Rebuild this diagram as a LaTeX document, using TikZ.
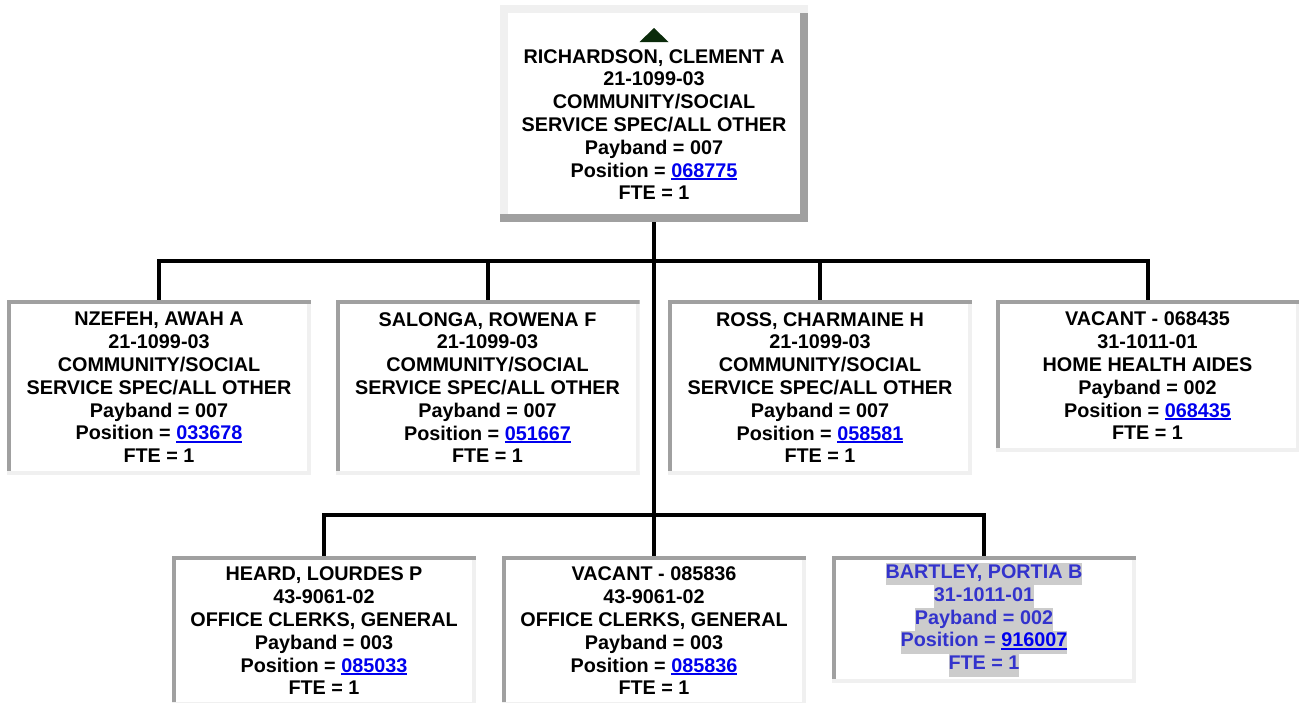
\documentclass[tikz,border=0pt]{standalone}
\usepackage{fontspec}
\setmainfont{Liberation Sans}
\usetikzlibrary{positioning,calc}

\definecolor{bddark}{HTML}{A0A0A0}
\definecolor{bdlight}{HTML}{F0F0F0}
\definecolor{linkblue}{HTML}{0000EE}
\definecolor{vacblue}{HTML}{3333CC}
\definecolor{hlgray}{HTML}{CCCCCC}
\definecolor{markgreen}{HTML}{0B2B0B}

\setlength\fboxsep{0pt}
\newcommand\poslink[1]{{\color{linkblue}\setbox0\hbox{#1}\rlap{\rule[-3.3pt]{\wd0}{2pt}}\box0}}
\newcommand\hiline[1]{\colorbox{hlgray}{\strut #1}}

\begin{document}
\begin{tikzpicture}[x=1pt,y=-1pt,
  font=\fontsize{19.8}{22.8}\selectfont\bfseries,
  staff/.style={minimum width=304pt,minimum height=175pt,inner sep=0pt,outer sep=0pt,
    align=center,fill=white,
    path picture={
      \fill[bdlight] ([xshift=-4pt]path picture bounding box.north east) rectangle (path picture bounding box.south east);
      \fill[bddark] (path picture bounding box.north west) rectangle ([yshift=-4pt]path picture bounding box.north east);
      \fill[bddark] (path picture bounding box.north west) rectangle ([xshift=4pt]path picture bounding box.south west);
      \fill[bdlight] ([yshift=4pt]path picture bounding box.south west) rectangle (path picture bounding box.south east);
    }},
  boss/.style={minimum width=308pt,minimum height=217pt,inner sep=0pt,outer sep=0pt,
    align=center,fill=white,
    path picture={
      \fill[bddark] ([xshift=-8pt]path picture bounding box.north east) rectangle (path picture bounding box.south east);
      \fill[bdlight] (path picture bounding box.north west) rectangle ([yshift=-8pt]path picture bounding box.north east);
      \fill[bdlight] (path picture bounding box.north west) rectangle ([xshift=8pt]path picture bounding box.south west);
      \fill[bddark] ([yshift=8pt]path picture bounding box.south west) rectangle (path picture bounding box.south east);
    }},
  wire/.style={line width=4pt}]
\path[use as bounding box,clip] (0,0) rectangle (1299,702);

% supervisor
\node[boss] (richardson) at (654,113.5) {\rule{0pt}{13pt}\\RICHARDSON, CLEMENT A\\21-1099-03\\COMMUNITY/SOCIAL\\SERVICE SPEC/ALL OTHER\\Payband = 007\\Position = \poslink{068775}\\FTE = 1};
\fill[markgreen] ([yshift=-23pt]richardson.north) -- ([xshift=-14.5pt,yshift=-37pt]richardson.north)
  -- ([xshift=14.5pt,yshift=-37pt]richardson.north) -- cycle;

% first row
\node[staff] (nzefeh) at (159,387.5) {NZEFEH, AWAH A\\21-1099-03\\COMMUNITY/SOCIAL\\SERVICE SPEC/ALL OTHER\\Payband = 007\\Position = \poslink{033678}\\FTE = 1};
\node[staff] (salonga) at (487.5,387.5) {SALONGA, ROWENA F\\21-1099-03\\COMMUNITY/SOCIAL\\SERVICE SPEC/ALL OTHER\\Payband = 007\\Position = \poslink{051667}\\FTE = 1};
\node[staff] (ross) at (820,387.5) {ROSS, CHARMAINE H\\21-1099-03\\COMMUNITY/SOCIAL\\SERVICE SPEC/ALL OTHER\\Payband = 007\\Position = \poslink{058581}\\FTE = 1};
\node[staff,minimum height=152pt] (vacA) at (1147.5,376) {VACANT - 068435\\31-1011-01\\HOME HEALTH AIDES\\Payband = 002\\Position = \poslink{068435}\\FTE = 1};

% second row
\node[staff,minimum height=150pt] (heard) at (324,631) {HEARD, LOURDES P\\43-9061-02\\OFFICE CLERKS, GENERAL\\Payband = 003\\Position = \poslink{085033}\\FTE = 1};
\node[staff,minimum height=150pt] (vacB) at (654,631) {VACANT - 085836\\43-9061-02\\OFFICE CLERKS, GENERAL\\Payband = 003\\Position = \poslink{085836}\\FTE = 1};
\node[staff,minimum height=127pt,text=vacblue] (bartley) at (984,619.5) {\hiline{BARTLEY, PORTIA B}\\\hiline{31-1011-01}\\\hiline{Payband = 002}\\\hiline{Position = \poslink{916007}}\\\hiline{FTE = 1}};

% connectors
\coordinate (busA) at (654,261);
\coordinate (busB) at (654,515);
\draw[wire] (richardson.south) -- (vacB.north);
\draw[wire] (busA) -| (nzefeh.north);
\draw[wire] (busA) -| (salonga.north);
\draw[wire] (busA) -| (ross.north);
\draw[wire] (busA) -| (vacA.north);
\draw[wire] (busB) -| (heard.north);
\draw[wire] (busB) -| (bartley.north);
\end{tikzpicture}
\end{document}
